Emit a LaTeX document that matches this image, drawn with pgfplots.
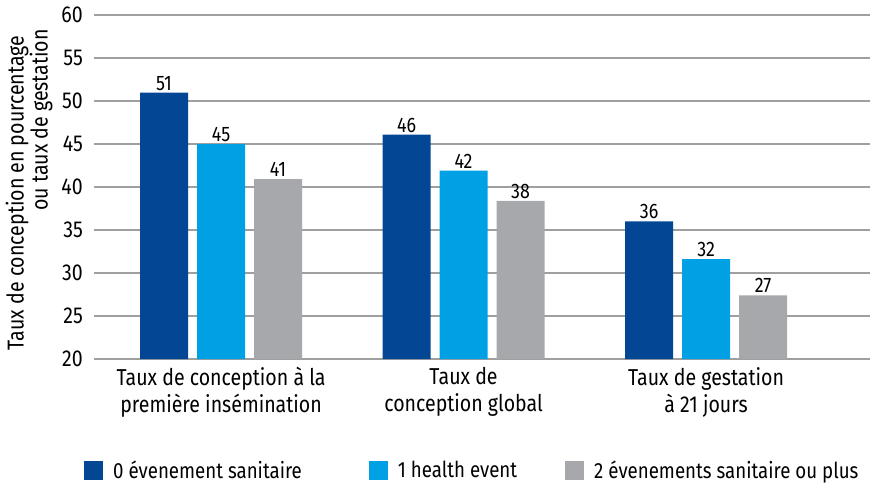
\documentclass[border=0pt]{standalone}
\usepackage{fontspec}
\setmainfont{Fira Sans}[FakeStretch=0.85]
\usepackage{pgfplots}
\pgfplotsset{compat=1.18}
\definecolor{cDark}{RGB}{3,71,148}
\definecolor{cLight}{RGB}{0,161,228}
\definecolor{cGray}{RGB}{167,168,171}
\begin{document}
\begin{tikzpicture}[x=1pt,y=1pt]
\path[use as bounding box] (0,0) rectangle (878,483);
\begin{axis}[
  at={(94pt,124pt)}, anchor=south west,
  scale only axis, width=776pt, height=344pt,
  /pgf/number format/assume math mode=true,
  ybar=9pt, bar width=48pt,
  xmin=-0.524, xmax=2.676,
  ymin=20, ymax=60, ytick={20,25,...,60},
  xtick={0,1,2},
  xticklabels={{Taux de conception à la\\première insémination},{Taux de\\conception global},{Taux de gestation\\à 21 jours}},
  axis line style={draw=none},
  major tick length=0pt,
  ymajorgrids, grid style={gray!75, line width=1.3pt},
  tick label style={font=\fontsize{23}{27}\selectfont},
  xticklabel style={align=center, inner sep=0pt, anchor=north, yshift=-8pt},
  yticklabel style={inner sep=0pt, anchor=east, xshift=-11pt},
  nodes near coords,
  nodes near coords style={font=\fontsize{21}{24}\selectfont, anchor=south, inner sep=2pt, /pgf/number format/.cd, fixed, precision=0},
  legend columns=3,
  legend style={at={(-0.0129,-0.3227)}, anchor=west, draw=none, fill=none,
    font=\fontsize{22}{25}\selectfont, inner sep=0pt,
    /tikz/every odd column/.append style={column sep=8pt},
    /tikz/column 2/.style={column sep=65pt},
    /tikz/column 4/.style={column sep=46pt}},
  legend image code/.code={\fill[#1] (0pt,-9.5pt) rectangle (19pt,9.5pt);},
]
\addplot[fill=cDark, draw=none] coordinates {(0,50.97) (1,46.1) (2,36.0)};
\addplot[fill=cLight, draw=none] coordinates {(0,45.0) (1,41.9) (2,31.6)};
\addplot[fill=cGray, draw=none] coordinates {(0,40.93) (1,38.4) (2,27.4)};
\legend{0 évenement sanitaire, 1 health event, 2 évenements sanitaire ou plus}
\end{axis}
\node[rotate=90, font=\fontsize{23}{27}\selectfont] at (17,290) {Taux de conception en pourcentage};
\node[rotate=90, font=\fontsize{23}{27}\selectfont] at (41,363) {ou taux de gestation};
\end{tikzpicture}
\end{document}
